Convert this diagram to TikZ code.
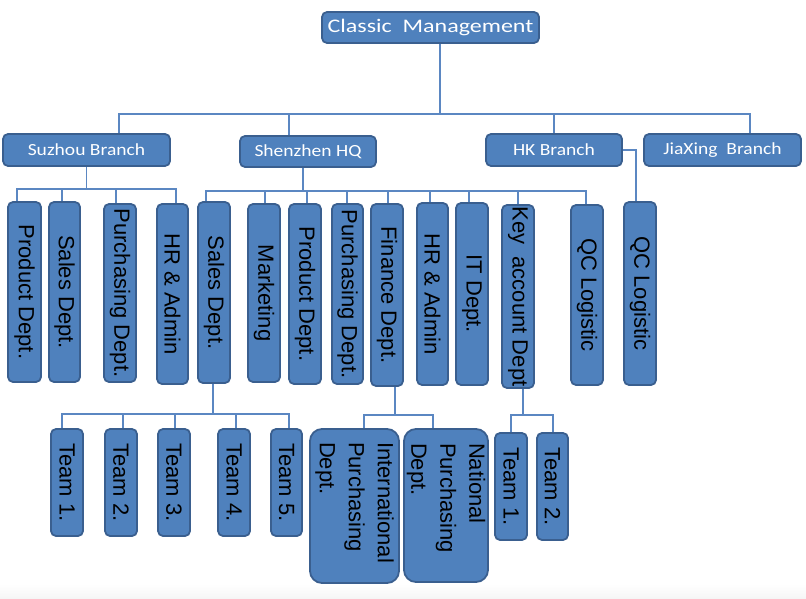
\documentclass[tikz,border=0pt]{standalone}
\usepackage{fontspec}
\usepackage{graphicx}
\newfontfamily\calib[FakeStretch=1.15]{Carlito}
\newfontfamily\calibw[FakeStretch=1.25]{Carlito}
\newfontfamily\arialf{Liberation Sans}
\definecolor{boxfill}{HTML}{4F81BD}
\definecolor{boxborder}{HTML}{3A5F8F}
\definecolor{linecol}{HTML}{5B87C2}
\newcommand{\vt}[1]{\rotatebox{-90}{#1}}
\newcommand{\vtp}[2]{\rotatebox{-90}{\parbox{#1}{\raggedright #2}}}
\tikzset{
  box/.style={draw=boxborder, fill=boxfill, line width=1.8pt, rounded corners=5pt, inner sep=0pt},
  topbox/.style={box, text=white, font=\calib\fontsize{17}{20}\selectfont},
  vbox/.style={box, text=black, font=\arialf\fontsize{22}{29}\selectfont},
  bigbox/.style={vbox, rounded corners=12pt},
  conn/.style={draw=linecol, line width=1.3pt}
}
\begin{document}
\begin{tikzpicture}[x=1pt,y=-1pt]
\useasboundingbox (0,0) rectangle (806,599);
\shade[top color=white, bottom color=gray!8] (0,584) rectangle (806,599);

% top
\node[topbox, font=\calibw\fontsize{19.2}{23}\selectfont, minimum width=217pt, minimum height=31pt] (cm) at (430.5,27.5) {Classic~ Management};

% branches
\node[topbox, minimum width=167pt, minimum height=32pt] (sz) at (86.5,150) {Suzhou Branch};
\node[topbox, minimum width=136pt, minimum height=31pt] (shz) at (308,151.5) {Shenzhen HQ};
\node[topbox, minimum width=136pt, minimum height=32pt] (hk) at (554,150) {HK Branch};
\node[topbox, minimum width=157pt, minimum height=32pt] (jx) at (722.5,150) {JiaXing~ Branch};

% Suzhou children
\node[vbox, minimum width=33pt, minimum height=180pt] (s1) at (24.5,292) {\vt{Product Dept.}};
\node[vbox, minimum width=31pt, minimum height=180pt] (s2) at (64.5,292) {\vt{Sales Dept.}};
\node[vbox, minimum width=32pt, minimum height=178pt] (s3) at (120,293) {\vt{Purchasing Dept.}};
\node[vbox, minimum width=31pt, minimum height=180pt] (s4) at (172.5,294) {\vt{HR \& Admin}};

% Shenzhen children
\node[vbox, minimum width=32pt, minimum height=181pt] (h1) at (214,292.5) {\vt{Sales Dept.}};
\node[vbox, minimum width=32pt, minimum height=178pt] (h2) at (264,293) {\vt{Marketing}};
\node[vbox, minimum width=32pt, minimum height=180pt] (h3) at (305,294) {\vt{Product Dept.}};
\node[vbox, minimum width=31pt, minimum height=180pt] (h4) at (347.5,294) {\vt{Purchasing Dept.}};
\node[vbox, minimum width=32pt, minimum height=182pt] (h5) at (387,295) {\vt{Finance Dept.}};
\node[vbox, minimum width=31pt, minimum height=182pt] (h6) at (432.5,294) {\vt{HR \& Admin}};
\node[vbox, minimum width=32pt, minimum height=182pt] (h7) at (472,294) {\vt{IT Dept.}};
\node[vbox, minimum width=32pt, minimum height=183pt] (h8) at (518,296.5) {\vt{Key~ account Dept}};
\node[vbox, minimum width=32pt, minimum height=180pt] (h9) at (587,295) {\vt{QC Logistic}};

% HK child
\node[vbox, minimum width=32pt, minimum height=183pt] (k1) at (640,293.5) {\vt{QC Logistic}};

% Sales teams
\node[vbox, minimum width=32pt, minimum height=107pt] (t1) at (67,482.5) {\vt{Team 1.}};
\node[vbox, minimum width=32pt, minimum height=107pt] (t2) at (121,482.5) {\vt{Team 2.}};
\node[vbox, minimum width=32pt, minimum height=107pt] (t3) at (174,482.5) {\vt{Team 3.}};
\node[vbox, minimum width=32pt, minimum height=107pt] (t4) at (234,482.5) {\vt{Team 4.}};
\node[vbox, minimum width=31pt, minimum height=107pt] (t5) at (286.5,482.5) {\vt{Team 5.}};

% Finance children
\node[bigbox, minimum width=89pt, minimum height=154pt] (f1) at (354.5,506) {\vtp{128pt}{International\\Purchasing\\Dept.}};
\node[bigbox, minimum width=84pt, minimum height=153pt] (f2) at (446,505.5) {\vtp{125pt}{National\\Purchasing\\Dept.}};

% Key account children
\node[vbox, minimum width=32pt, minimum height=107pt] (a1) at (511,486.5) {\vt{Team 1.}};
\node[vbox, minimum width=31pt, minimum height=107pt] (a2) at (552.5,486.5) {\vt{Team 2.}};

% connectors: top
\draw[conn] ([xshift=9.5pt]cm.south) -- ++(0,70) -| ([xshift=32.5pt]sz.north);
\draw[conn] ([xshift=9.5pt]cm.south) -- ++(0,70) -| ([xshift=-19pt]shz.north);
\draw[conn] ([xshift=9.5pt]cm.south) -- ++(0,70) -| (hk.north);
\draw[conn] ([xshift=9.5pt]cm.south) -- ++(0,70) -| ([xshift=27.5pt]jx.north);

% Suzhou
\draw[conn] (sz.south) -- ++(0,22) -| ([xshift=-7.5pt]s1.north);
\draw[conn] (sz.south) -- ++(0,22) -| ([xshift=-2.5pt]s2.north);
\draw[conn] (sz.south) -- ++(0,22) -| ([xshift=-4pt]s3.north);
\draw[conn] (sz.south) -- ++(0,22) -| ([xshift=3.5pt]s4.north);

% Shenzhen
\draw[conn] ([xshift=-5pt]shz.south) -- ++(0,23) -| ([xshift=-8pt]h1.north);
\draw[conn] ([xshift=-5pt]shz.south) -- ++(0,23) -| ([xshift=1pt]h2.north);
\draw[conn] ([xshift=-5pt]shz.south) -- ++(0,23) -| ([xshift=2pt]h3.north);
\draw[conn] ([xshift=-5pt]shz.south) -- ++(0,23) -| ([xshift=-0.5pt]h4.north);
\draw[conn] ([xshift=-5pt]shz.south) -- ++(0,23) -| ([xshift=1pt]h5.north);
\draw[conn] ([xshift=-5pt]shz.south) -- ++(0,23) -| ([xshift=-2.5pt]h6.north);
\draw[conn] ([xshift=-5pt]shz.south) -- ++(0,23) -| ([xshift=-3pt]h7.north);
\draw[conn] ([xshift=-5pt]shz.south) -- ++(0,23) -| (h8.north);
\draw[conn] ([xshift=-5pt]shz.south) -- ++(0,23) -| ([xshift=-1pt]h9.north);

% HK
\draw[conn] (hk.east) -| ([xshift=-4pt]k1.north);

% Sales teams
\draw[conn] ([xshift=-1pt]h1.south) -- ++(0,30) -| ([xshift=-5pt]t1.north);
\draw[conn] ([xshift=-1pt]h1.south) -- ++(0,30) -| ([xshift=2pt]t2.north);
\draw[conn] ([xshift=-1pt]h1.south) -- ++(0,30) -| ([xshift=1pt]t3.north);
\draw[conn] ([xshift=-1pt]h1.south) -- ++(0,30) -| ([xshift=2pt]t4.north);
\draw[conn] ([xshift=-1pt]h1.south) -- ++(0,30) -| ([xshift=2.5pt]t5.north);

% Finance
\draw[conn] ([xshift=8pt]h5.south) -- ++(0,28) -| ([xshift=9.5pt]f1.north);
\draw[conn] ([xshift=8pt]h5.south) -- ++(0,28) -| ([xshift=-13pt]f2.north);

% Key account
\draw[conn] ([xshift=5pt]h8.south) -- ++(0,26) -| (a1.north);
\draw[conn] ([xshift=5pt]h8.south) -- ++(0,26) -| ([xshift=0.5pt]a2.north);
\end{tikzpicture}
\end{document}
